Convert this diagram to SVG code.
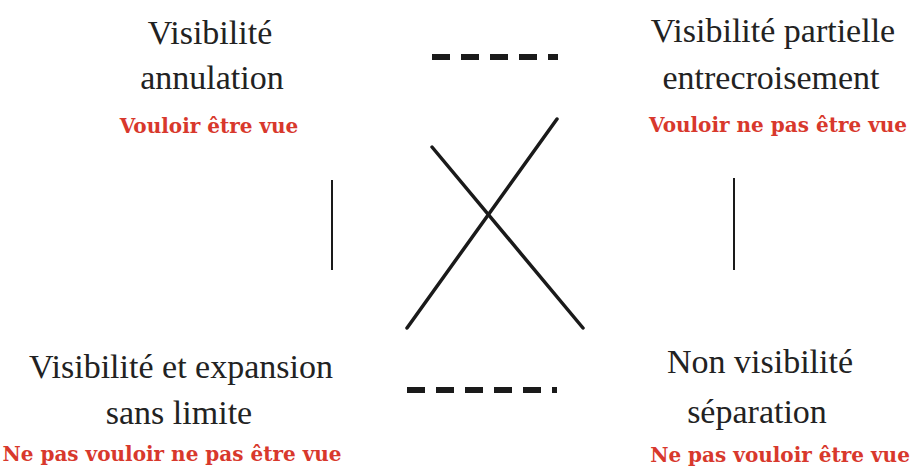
<svg xmlns="http://www.w3.org/2000/svg" width="912" height="471" viewBox="0 0 912 471">
<style>
.t{font-family:"Liberation Serif","Times New Roman",serif;font-size:34px;fill:#222;text-anchor:middle}
.r{font-family:"DejaVu Serif","Liberation Serif",serif;font-size:20px;font-weight:bold;fill:#d8382c;text-anchor:middle}
.ln{stroke:#1a1a1a;fill:none}
</style>
<rect width="912" height="471" fill="#fff"/>
<g id="node-tl">
<text class="t" x="210" y="44">Visibilité</text>
<text class="t" x="212" y="89">annulation</text>
<text class="r" x="209" y="133">Vouloir être vue</text>
</g>
<g id="node-tr">
<text class="t" x="773" y="42">Visibilité partielle</text>
<text class="t" x="771" y="89">entrecroisement</text>
<text class="r" x="778" y="132">Vouloir ne pas être vue</text>
</g>
<g id="node-bl">
<text class="t" x="181" y="378">Visibilité et expansion</text>
<text class="t" x="179" y="424">sans limite</text>
<text class="r" x="172" y="461">Ne pas vouloir ne pas être vue</text>
</g>
<g id="node-br">
<text class="t" x="760" y="373">Non visibilité</text>
<text class="t" x="757" y="423">séparation</text>
<text class="r" x="780" y="462">Ne pas vouloir être vue</text>
</g>
<g id="connectors">
<line class="ln" x1="432" y1="57" x2="558" y2="57" stroke-width="6" stroke-dasharray="18 11"/>
<line class="ln" x1="407" y1="390" x2="557" y2="390" stroke-width="6" stroke-dasharray="18 11"/>
<line class="ln" x1="332" y1="180" x2="332" y2="270" stroke-width="2"/>
<line class="ln" x1="734" y1="178" x2="734" y2="270" stroke-width="2"/>
<line class="ln" x1="432" y1="147" x2="583" y2="328" stroke-width="3.5" stroke-linecap="round"/>
<line class="ln" x1="557" y1="119" x2="407" y2="328" stroke-width="3.5" stroke-linecap="round"/>
</g>
</svg>
